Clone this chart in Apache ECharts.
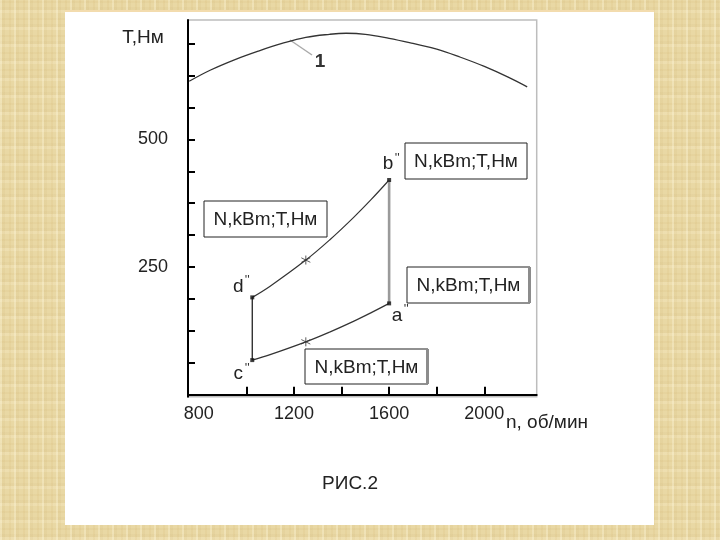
<!DOCTYPE html>
<html>
<head>
<meta charset="utf-8">
<script src="https://cdn.jsdelivr.net/npm/echarts@6/dist/echarts.min.js"></script>
<style>
html,body{margin:0;padding:0;}
body{
  width:720px;height:540px;overflow:hidden;
  background-color:#E9D8A4;
  background-image:
    repeating-linear-gradient(90deg, rgba(255,250,225,0.30) 0 2px, rgba(160,120,40,0.05) 2px 5px, rgba(255,255,255,0) 5px 9px, rgba(200,160,80,0.09) 9px 11px, rgba(255,255,255,0) 11px 14px),
    repeating-linear-gradient(0deg, rgba(255,245,215,0.22) 0 3px, rgba(150,110,40,0.04) 3px 6px, rgba(255,255,255,0) 6px 10px, rgba(190,150,70,0.07) 10px 12px, rgba(255,255,255,0) 12px 17px);
}
#c{width:720px;height:540px;}
</style>
</head>
<body>
<div id="c"></div>
<script>
// ---- data (n, об/мин ; value) ----
const curve1N = [760, 850, 950, 1050, 1150, 1250, 1350, 1420, 1500, 1600, 1700, 1800, 1900, 2000, 2100, 2180];
const curve1V = [614, 636, 656, 673, 688, 700, 706, 708, 706, 698, 688, 677, 661, 643, 622, 603];

const upperN = [1025, 1100, 1250, 1350, 1450, 1525, 1600];
const upperV = [190.6, 212.5, 263.7, 303.1, 346.9, 382.5, 420.5];

const lowerN = [1025, 1100, 1250, 1350, 1450, 1525, 1600];
const lowerV = [67.7, 78.5, 103.5, 122.6, 143.6, 160.7, 178.8];

const pointNames = ["d''", "c''", "b''", "a''"];
const pointN = [1025, 1025, 1600, 1600];
const pointV = [190.6, 67.7, 420.5, 178.8];

const starN = [1250, 1250];
const starV = [263.7, 103.5];

const xTickValues = [1000, 1200, 1400, 1600, 1800, 2000];
const xLabelValues = [800, 1200, 1600, 2000];
const yTickValues = [62.5, 125, 187.5, 250, 312.5, 375, 437.5, 500, 562.5, 625, 687.5];
const yLabelValues = [250, 500];

const boxText = 'N,kBm;T,Нм';

// ---- build ----
const zip = (a, b) => a.map((v, i) => [v, b[i]]);
const font = '"Liberation Sans", Arial, sans-serif';
const ink = '#222';

const chart = echarts.init(document.getElementById('c'), null, {renderer: 'canvas'});

const option = {
  backgroundColor: 'transparent',
  animation: false,
  grid: {
    left: 188, right: 183.3, top: 20, bottom: 143.3,
    show: true, backgroundColor: 'transparent',
    borderColor: '#bdbdbd', borderWidth: 1.5
  },
  xAxis: {
    type: 'value', min: 755, max: 2220,
    axisLine: {show: true, lineStyle: {color: '#000', width: 2}},
    axisTick: {show: true, inside: true, length: 8, lineStyle: {color: '#000', width: 2}, customValues: xTickValues},
    axisLabel: {show: true, margin: 8, color: ink, fontFamily: font, fontSize: 18, customValues: xLabelValues,
                formatter: v => String(v)},
    splitLine: {show: false}
  },
  yAxis: {
    type: 'value', min: -4, max: 734,
    axisLine: {show: true, lineStyle: {color: '#000', width: 2}},
    axisTick: {show: true, inside: true, length: 7, lineStyle: {color: '#000', width: 2}, customValues: yTickValues},
    axisLabel: {show: true, margin: 20, color: ink, fontFamily: font, fontSize: 18, customValues: yLabelValues,
                formatter: v => String(v)},
    splitLine: {show: false}
  },
  series: [
    {type: 'line', data: zip(curve1N, curve1V), smooth: 0.4, symbol: 'none',
     lineStyle: {color: '#333', width: 1.3}},
    {type: 'line', data: zip(upperN, upperV), smooth: 0.4, symbol: 'none',
     lineStyle: {color: '#333', width: 1.2}},
    {type: 'line', data: zip(lowerN, lowerV), smooth: 0.4, symbol: 'none',
     lineStyle: {color: '#333', width: 1.2}},
    {type: 'line', data: [[pointN[0], pointV[0]], [pointN[1], pointV[1]]], symbol: 'none',
     lineStyle: {color: '#222', width: 1.3}},
    {type: 'line', data: [[pointN[2], pointV[2]], [pointN[3], pointV[3]]], symbol: 'none',
     lineStyle: {color: '#9a9a9a', width: 2.6}},
    {type: 'scatter', data: zip(pointN, pointV), symbol: 'rect', symbolSize: 4,
     itemStyle: {color: '#111'}, z: 5},
    {type: 'scatter', data: zip(starN, starV),
     symbol: 'path://M0,-5L0,5M-4.3,-2.5L4.3,2.5M-4.3,2.5L4.3,-2.5', symbolSize: 9,
     itemStyle: {color: 'none', borderColor: '#333', borderWidth: 1}, z: 5}
  ]
};
chart.setOption(option);

// ---- annotations ----
function box(x, y, w, h, shadow) {
  const els = [
    {type: 'rect', shape: {x: x, y: y, width: w, height: h},
     style: {fill: '#fff', stroke: '#222', lineWidth: 1}, z: 10},
    {type: 'text', x: x + w / 2, y: y + h / 2 + 1,
     style: {text: boxText, fill: ink, font: '19px ' + font, align: 'center', verticalAlign: 'middle'}, z: 11}
  ];
  if (shadow) {
    els.push({type: 'rect', shape: {x: x + w - 2, y: y, width: 3, height: h},
      style: {fill: '#8c8c8c'}, z: 11});
  }
  return els;
}
function ptLabel(name, n, v, dx, dy) {
  const p = chart.convertToPixel({gridIndex: 0}, [n, v]);
  const letter = name.replace(/'/g, '');
  return [
    {type: 'text', x: p[0] + dx, y: p[1] + dy,
     style: {text: letter, fill: ink, font: '19px ' + font, align: 'center', verticalAlign: 'middle'}, z: 12},
    {type: 'text', x: p[0] + dx + 9, y: p[1] + dy - 6,
     style: {text: "''", fill: '#333', font: '13px ' + font, align: 'center', verticalAlign: 'middle'}, z: 12}
  ];
}

let g = [
  {type: 'rect', shape: {x: 65, y: 12, width: 589, height: 513}, style: {fill: '#ffffff'}, z: -10},
  {type: 'rect', shape: {x: 65, y: 10, width: 589, height: 2}, style: {fill: '#f3dcae'}, z: -10},
  {type: 'text', x: 143, y: 38, style: {text: 'T,Нм', fill: ink, font: '19px ' + font, align: 'center', verticalAlign: 'middle'}},
  {type: 'text', x: 547, y: 423, style: {text: 'n, об/мин', fill: ink, font: '19px ' + font, align: 'center', verticalAlign: 'middle'}},
  {type: 'text', x: 350, y: 484, style: {text: 'РИС.2', fill: ink, font: '19px ' + font, align: 'center', verticalAlign: 'middle'}},
  {type: 'line', shape: {x1: 290, y1: 40, x2: 312, y2: 55}, style: {stroke: '#aaa', lineWidth: 1.5}, z: 3},
  {type: 'text', x: 320, y: 62, style: {text: '1', fill: '#333', font: 'bold 19px ' + font, align: 'center', verticalAlign: 'middle'}}
];
g = g.concat(box(405, 143, 122, 36, false));
g = g.concat(box(204, 201, 123, 36, false));
g = g.concat(box(407, 267, 123, 36, true));
g = g.concat(box(305, 349, 123, 35, true));
g = g.concat(ptLabel(pointNames[0], pointN[0], pointV[0], -14, -11));
g = g.concat(ptLabel(pointNames[1], pointN[1], pointV[1], -14, 14));
g = g.concat(ptLabel(pointNames[2], pointN[2], pointV[2], -1, -16));
g = g.concat(ptLabel(pointNames[3], pointN[3], pointV[3], 8, 12));

chart.setOption({graphic: {elements: g}});
</script>
</body>
</html>
